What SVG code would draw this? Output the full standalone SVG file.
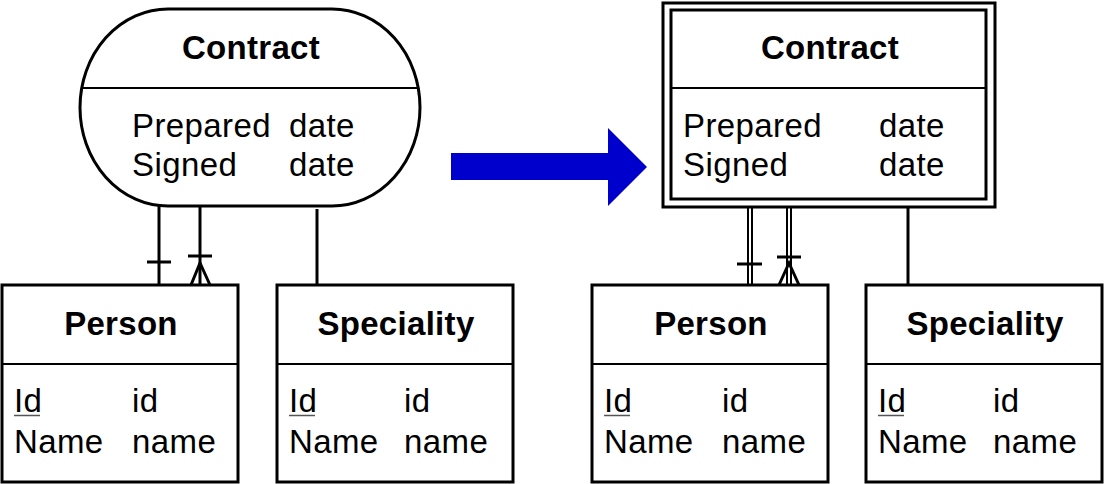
<svg xmlns="http://www.w3.org/2000/svg" width="1106" height="484" viewBox="0 0 1106 484">
<style>
.box{fill:#fff;stroke:#000;stroke-width:3}
.div{stroke:#000;stroke-width:2}
.t{font-family:"Liberation Sans",Arial,sans-serif;font-size:33px;fill:#000;letter-spacing:0.4px}
.b{font-weight:bold;text-anchor:middle;letter-spacing:0.3px}
.c{stroke:#000;stroke-width:3;fill:none}
.c2{stroke:#000;stroke-width:2;fill:none}
.u{stroke:#555;stroke-width:1.5}
</style>
<rect width="1106" height="484" fill="#fff"/>
<g id="connectors">
<line class="c" x1="159" y1="206" x2="159" y2="285"/>
<line class="c" x1="147" y1="262" x2="171" y2="262"/>
<line class="c" x1="200" y1="206" x2="200" y2="285"/>
<line class="c" x1="188" y1="256" x2="212" y2="256"/>
<polyline class="c" points="191,285 200,263 210,285"/>
<line class="c" x1="317" y1="209" x2="317" y2="285"/>
<line class="c2" x1="748" y1="207" x2="748" y2="285"/>
<line class="c2" x1="752" y1="207" x2="752" y2="285"/>
<line class="c" x1="737" y1="264" x2="762" y2="264"/>
<line class="c2" x1="787" y1="207" x2="787" y2="285"/>
<line class="c2" x1="791" y1="207" x2="791" y2="285"/>
<line class="c" x1="777" y1="257" x2="801" y2="257"/>
<polyline class="c" points="779,285 789,263 799,285"/>
<line class="c" x1="908" y1="207" x2="908" y2="285"/>
</g>
<g id="arrow">
<polygon points="451,153 608,153 608,128 647,167 608,206 608,180 451,180" fill="#0000cc"/>
</g>
<g id="contract-left">
<rect class="box" x="80" y="9" width="340" height="197" rx="88" ry="98.5"/>
<line class="div" x1="81" y1="88" x2="419" y2="88"/>
<text class="t b" x="251" y="59">Contract</text>
<text class="t" x="132" y="137">Prepared</text>
<text class="t" x="289" y="137">date</text>
<text class="t" x="132" y="176">Signed</text>
<text class="t" x="289" y="176">date</text>
</g>
<g id="person-left">
<rect class="box" x="2" y="285" width="236" height="197"/>
<line class="div" x1="2" y1="364" x2="238" y2="364"/>
<text class="t b" x="121" y="335">Person</text>
<text class="t" x="14" y="412">Id</text>
<line class="u" x1="14" y1="415.5" x2="40" y2="415.5"/>
<text class="t" x="132" y="412">id</text>
<text class="t" x="14" y="453">Name</text>
<text class="t" x="132" y="453">name</text>
</g>
<g id="speciality-left">
<rect class="box" x="277" y="285" width="236" height="197"/>
<line class="div" x1="277" y1="364" x2="513" y2="364"/>
<text class="t b" x="396" y="335">Speciality</text>
<text class="t" x="289" y="412">Id</text>
<line class="u" x1="289" y1="415.5" x2="315" y2="415.5"/>
<text class="t" x="404" y="412">id</text>
<text class="t" x="289" y="453">Name</text>
<text class="t" x="404" y="453">name</text>
</g>
<g id="contract-right">
<rect class="box" x="663" y="3" width="332" height="204"/>
<rect class="box" x="671" y="10" width="315" height="189"/>
<line class="div" x1="671" y1="88" x2="986" y2="88"/>
<text class="t b" x="830" y="59">Contract</text>
<text class="t" x="683" y="137">Prepared</text>
<text class="t" x="879" y="137">date</text>
<text class="t" x="683" y="176">Signed</text>
<text class="t" x="879" y="176">date</text>
</g>
<g id="person-right">
<rect class="box" x="592" y="285" width="236" height="197"/>
<line class="div" x1="592" y1="364" x2="828" y2="364"/>
<text class="t b" x="711" y="335">Person</text>
<text class="t" x="604" y="412">Id</text>
<line class="u" x1="604" y1="415.5" x2="630" y2="415.5"/>
<text class="t" x="722" y="412">id</text>
<text class="t" x="604" y="453">Name</text>
<text class="t" x="722" y="453">name</text>
</g>
<g id="speciality-right">
<rect class="box" x="866" y="285" width="236" height="197"/>
<line class="div" x1="866" y1="364" x2="1102" y2="364"/>
<text class="t b" x="985" y="335">Speciality</text>
<text class="t" x="878" y="412">Id</text>
<line class="u" x1="878" y1="415.5" x2="904" y2="415.5"/>
<text class="t" x="993" y="412">id</text>
<text class="t" x="878" y="453">Name</text>
<text class="t" x="993" y="453">name</text>
</g>
</svg>
